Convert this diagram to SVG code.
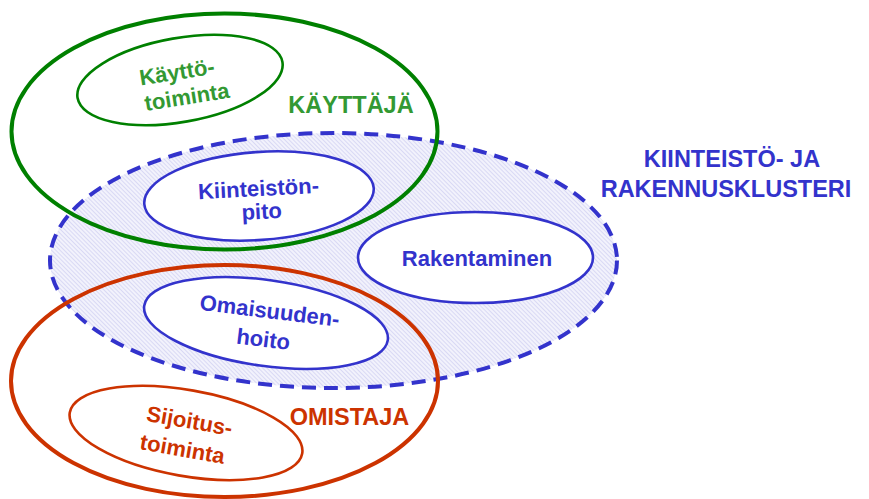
<svg xmlns="http://www.w3.org/2000/svg" width="869" height="499" viewBox="0 0 869 499">
<defs>
<pattern id="hatch" patternUnits="userSpaceOnUse" width="3" height="3" patternTransform="rotate(-45)">
<rect width="3" height="3" fill="#f2f2fc"/>
<line x1="0" y1="0" x2="0" y2="3" stroke="#c8c8f0" stroke-width="1.2"/>
</pattern>
<style>
text{font-family:"Liberation Sans",Arial,sans-serif;font-weight:bold;text-anchor:middle}
.g{fill:#339933}.b{fill:#3333cc}.r{fill:#cc3300}
.inner{fill:#ffffff;stroke-width:2.6}
.big{fill:none;stroke-width:4}
.lbl{font-size:22px}
.cap{font-size:23.5px}
</style>
</defs>
<rect width="869" height="499" fill="#ffffff"/>
<g id="cluster">
<ellipse cx="333.5" cy="260.5" rx="283.5" ry="127.5" fill="url(#hatch)" stroke="#3333cc" stroke-width="4" stroke-dasharray="14 8"/>
<text class="cap b" x="732" y="167">KIINTEISTÖ- JA</text>
<text class="cap b" x="726" y="197">RAKENNUSKLUSTERI</text>
</g>
<g id="kayttaja">
<ellipse class="big" cx="224.5" cy="131.5" rx="213" ry="118" stroke="#008000"/>
<text class="cap g" x="351" y="113">KÄYTTÄJÄ</text>
</g>
<g id="omistaja">
<ellipse class="big" cx="224.5" cy="381" rx="213.5" ry="116" stroke="#cc3300"/>
<text class="cap r" x="349.5" y="425">OMISTAJA</text>
</g>
<g id="kayttotoiminta">
<ellipse class="inner" cx="180" cy="80" rx="104" ry="42" transform="rotate(-10 180 80)" stroke="#008000"/>
<g transform="translate(182,85) rotate(-9)">
<text class="lbl g" x="-3" y="-6">Käyttö-</text>
<text class="lbl g" x="3" y="20">toiminta</text>
</g>
</g>
<g id="kiinteistonpito">
<ellipse class="inner" cx="259" cy="196" rx="115" ry="44" transform="rotate(-4 259 196)" stroke="#3333cc"/>
<g transform="translate(259,199) rotate(-3)">
<text class="lbl b" x="0" y="-3">Kiinteistön-</text>
<text class="lbl b" x="2" y="20">pito</text>
</g>
</g>
<g id="rakentaminen">
<ellipse class="inner" cx="475.5" cy="257.5" rx="117.5" ry="45.5" stroke="#3333cc"/>
<text class="lbl b" x="477" y="266">Rakentaminen</text>
</g>
<g id="omaisuudenhoito">
<ellipse class="inner" cx="266" cy="323" rx="123" ry="43" transform="rotate(8 266 323)" stroke="#3333cc"/>
<g transform="translate(266,325) rotate(7)">
<text class="lbl b" x="2" y="-7">Omaisuuden-</text>
<text class="lbl b" x="-1" y="22">hoito</text>
</g>
</g>
<g id="sijoitustoiminta">
<ellipse class="inner" cx="186" cy="433" rx="118" ry="43" transform="rotate(10 186 433)" stroke="#cc3300"/>
<g transform="translate(186,435) rotate(10)">
<text class="lbl r" x="1" y="-7">Sijoitus-</text>
<text class="lbl r" x="-1" y="22">toiminta</text>
</g>
</g>
<g id="connectors"/>
</svg>
